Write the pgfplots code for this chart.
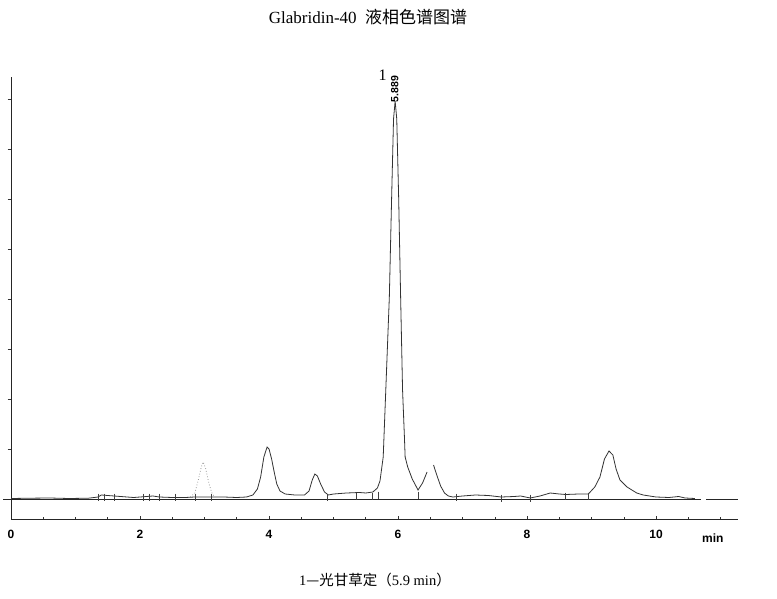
\documentclass[border=0pt]{standalone}
\usepackage{fontspec}
\setmainfont{Liberation Serif}
\setsansfont{Liberation Sans}
\newfontfamily\cjk{Noto Sans CJK SC}
\usepackage{pgfplots}
\pgfplotsset{compat=1.18}
\begin{document}
\begin{tikzpicture}[x=1pt,y=1pt]
\path[use as bounding box] (0pt,0pt) rectangle (777pt,598pt);
\node[font=\fontsize{17}{20}\selectfont] at (368pt,581pt) {Glabridin-40\ \ {\cjk 液相色谱图谱}};
\node[font=\fontsize{14.5}{17}\selectfont] at (375pt,18pt) {1{\cjk —光甘草定（}5.9 min{\cjk ）}};
\begin{axis}[
  at={(11pt,79pt)}, anchor=south west, scale only axis,
  width=727pt, height=442pt,
  xmin=0, xmax=11.27, ymin=-20, ymax=422,
  axis x line=bottom, axis y line=left,
  axis line style={-, black!85, line width=0.8pt},
  clip=false,
  xtick={0,2,...,10},
  minor xtick={0.5,1,...,11},
  ytick={0,50,...,400}, yticklabels={},
  tick align=inside,
  major tick length=3.5pt, minor tick length=2.5pt,
  tick style={black!80, line width=0.6pt},
  ytick style={xshift=-3.5pt},
  /pgf/number format/assume math mode=true,
  xticklabel style={font=\sffamily\bfseries\fontsize{12}{13}\selectfont, yshift=-8pt},
]
% baseline
\addplot[black!85, line width=0.7pt] coordinates {(-0.12,0) (10.7,0)};
\addplot[black!85, line width=0.7pt] coordinates {(10.78,0) (11.27,0)};
% dotted minor peak
\addplot[black!40, dotted, line width=0.8pt] coordinates {
(2.78,2)(2.85,6)(2.9,18)(2.95,32)(2.98,37)(3.02,30)(3.07,15)(3.12,5)(3.16,2)};
% main trace
\addplot[black!80, line width=0.8pt] coordinates {
(0,0.5)(0.3,0.8)(0.6,1.0)(0.9,0.5)(1.2,0.8)(1.35,2)(1.4,4)(1.5,3.5)(1.7,2.5)(1.9,1.5)
(2.0,2)(2.2,3)(2.3,2)(2.5,1.5)(2.7,1.5)(2.85,2)(3.1,2)(3.3,2)(3.5,1.5)(3.65,2)
(3.75,4)(3.82,10)(3.87,22)(3.92,42)(3.97,52)(4.0,50)(4.04,40)(4.08,27)(4.12,15)(4.17,8)
(4.25,5)(4.4,4)(4.55,4)(4.62,8)(4.67,19)(4.71,25)(4.75,23)(4.8,15)(4.86,7)(4.92,4)
(5.0,5)(5.2,6)(5.4,6.5)(5.5,6)(5.61,7)(5.68,11)(5.72,18)(5.77,42)(5.81,109)(5.865,202)
(5.90,300)(5.93,380)(5.955,398)(5.98,380)(6.01,300)(6.04,202)(6.07,109)(6.10,60)(6.11,42)
(6.15,32)(6.22,20)(6.31,9)(6.38,16)(6.45,27)};
\addplot[black!80, line width=0.8pt] coordinates {
(6.55,34)(6.6,24)(6.66,13)(6.72,6)(6.78,3)(6.85,2)(7.0,3)(7.2,4)(7.4,3.5)(7.6,2)
(7.8,2.5)(7.9,3)(8.05,1)(8.2,3)(8.36,6)(8.5,5)(8.6,4.5)(8.8,5)(8.95,5)(9.05,12)
(9.13,22)(9.2,40)(9.27,48)(9.33,44)(9.38,30)(9.44,19)(9.55,12)(9.7,6)(9.8,4)(10.0,2)
(10.2,1.5)(10.35,2.5)(10.45,1)(10.6,0.5)};
% integration marks
\addplot[only marks, mark=|, mark size=3.5pt, black!75, mark options={line width=0.6pt}] coordinates {
(1.35,2)(1.45,2)(1.6,2)(2.05,2)(2.15,2)(2.3,2)(2.55,2)(2.85,2)(3.1,2)
(4.9,2)(5.35,3)(5.6,3)(5.7,4)(6.31,4)(6.9,2)(7.6,1)(8.05,1)(8.6,3)(8.95,3)};
\node[font=\fontsize{16}{18}\selectfont] at (axis cs:5.76,424) {1};
\node[font=\sffamily\bfseries\fontsize{10.5}{12}\selectfont, rotate=90] at (axis cs:5.95,410) {5.889};
\node[font=\sffamily\bfseries\fontsize{12}{13}\selectfont] at (axis cs:10.88,-39) {min};
\end{axis}
\end{tikzpicture}
\end{document}
